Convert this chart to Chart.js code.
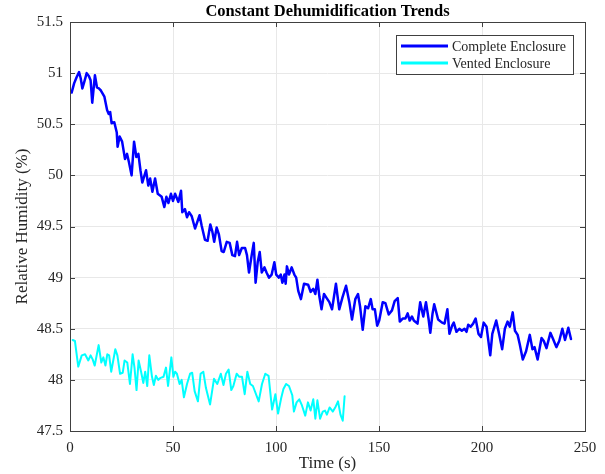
<!DOCTYPE html>
<html>
<head>
<meta charset="utf-8">
<script src="https://cdn.jsdelivr.net/npm/chart.js@4.4.0/dist/chart.umd.min.js"></script>
<style>
  body { margin: 0; background: #fff; }
  canvas { display: block; }
</style>
</head>
<body>
<canvas id="humidityChart" width="605" height="474"></canvas>
<script>
const xTicks = [0, 50, 100, 150, 200, 250];
const yTicks = [47.5, 48, 48.5, 49, 49.5, 50, 50.5, 51, 51.5];

const completeTime = [0.8,2,3.2,4.4,5.2,6,7,8.1,9.2,10,10.8,12.1,13.1,14,15,16.7,18,18.8,19.5,20.2,21.5,22.7,23.1,24.1,25.3,26.7,27.7,28.6,29.9,31.1,32.2,33.2,34.2,35.1,36.9,38,38.9,40,41.3,42.6,44.5,45.8,46.8,47.8,49,50,51,52.6,53.9,54.5,55.8,56.8,57.8,59.1,60.7,62.9,63.9,65.5,66.8,68.1,69.1,70,71.2,72.3,73.6,74.6,76.1,77.5,78.8,80.1,81.1,82.1,83.4,85,85.9,86.9,88.2,89.2,90.1,91.1,92.1,93.1,94.4,95.4,96.6,97.9,99.2,100.1,101.4,102.3,103.1,104.1,104.7,105.3,106.3,107.6,108.9,109.8,110.8,112.1,113.6,115.6,116.8,118.1,119.1,120.1,121.1,122.1,123.3,124.6,125.9,127.2,129.1,130.7,132.3,134,135.6,136.9,138.5,139.8,140.8,142.1,143.4,144.7,146,146.9,148,149.1,150.1,151.8,153.1,154.7,156.3,157.6,159.1,160.1,161.5,162.8,163.9,164.9,166,166.9,168.7,170,171.5,172.8,174.1,174.9,176,176.8,178.7,180.6,181.8,183.2,184.2,185.5,186.3,187.6,189,190.2,191.5,192.5,193.3,194.5,195.7,196.9,198.3,199.5,200.8,202.2,204,205,206.9,208.3,209.8,211.1,212.4,213.5,214.9,216,217.3,218.3,219.8,221.4,223.2,224.5,225.5,227,228.9,230,231.3,233.2,234.5,236.1,237.5,239,240.3,241.9,243.2];
const completeHumidity = [50.81,50.9,50.96,51.01,50.95,50.85,50.92,51.0,50.97,50.93,50.71,50.98,50.86,50.85,50.83,50.77,50.64,50.6,50.62,50.51,50.52,50.42,50.28,50.38,50.33,50.16,50.21,50.13,50.0,50.33,50.18,50.21,50.05,49.93,50.05,49.9,49.97,49.84,49.97,49.82,49.79,49.69,49.79,49.73,49.82,49.75,49.82,49.74,49.85,49.64,49.67,49.59,49.64,49.6,49.48,49.61,49.51,49.37,49.36,49.52,49.45,49.35,49.49,49.42,49.26,49.25,49.35,49.34,49.22,49.21,49.35,49.22,49.29,49.29,49.22,49.05,49.22,49.34,48.95,49.15,49.25,49.05,49.1,49.05,49.0,49.03,49.15,49.03,49.0,49.03,48.95,49.03,48.94,49.11,49.03,49.1,49.03,49.0,48.87,48.79,48.94,48.93,48.86,48.89,48.84,48.98,48.81,48.69,48.84,48.8,48.76,48.69,48.94,48.69,48.81,48.92,48.76,48.59,48.79,48.84,48.72,48.49,48.72,48.7,48.79,48.69,48.69,48.53,48.58,48.76,48.75,48.64,48.68,48.77,48.8,48.57,48.6,48.6,48.65,48.58,48.62,48.58,48.55,48.76,48.62,48.76,48.59,48.46,48.65,48.74,48.59,48.56,48.55,48.69,48.45,48.53,48.56,48.47,48.5,48.48,48.5,48.47,48.54,48.52,48.55,48.6,48.45,48.42,48.56,48.52,48.24,48.45,48.58,48.45,48.3,48.5,48.57,48.52,48.66,48.48,48.44,48.35,48.2,48.28,48.44,48.3,48.32,48.2,48.41,48.38,48.31,48.46,48.4,48.32,48.38,48.5,48.39,48.51,48.4];

const ventedTime = [1.3,2.4,4,5.7,7.3,8.9,10,11,12,13.9,15.2,16.2,17.2,18.1,19,20,22,23,24.3,25.6,26.5,27.8,29.1,30.4,31.3,32.3,33.3,34.5,35.6,36.5,37.5,38.5,39.8,40.7,41.7,42.8,44,45.4,46.6,47.6,49.2,50.2,51,51.9,53.2,54.2,55.3,56.8,58.3,59.3,60.5,62.1,63.4,64.7,66,68,69.9,71.5,73.2,74.5,75.7,77,78.3,79.3,80.9,82.2,83.5,84.8,86.1,87.5,88.8,91.6,93.2,94.8,96.4,98.1,99.7,101,102.5,103.6,104.9,106.3,107.9,108.7,110,111.3,112.6,114.2,115.5,116.8,118.1,119.1,120.1,121.4,122.7,123.8,124.7,126,127.6,129,130.1,131.3,132.4,133.3];
const ventedHumidity = [48.39,48.38,48.13,48.24,48.25,48.19,48.24,48.2,48.14,48.34,48.17,48.22,48.14,48.25,48.24,48.08,48.3,48.24,48.06,48.07,48.19,48.17,47.96,48.25,48.12,47.9,48.19,48.08,47.97,48.08,47.94,48.24,48.03,47.95,48.04,48.0,48.02,48.03,48.12,47.94,48.22,48.03,48.08,48.06,47.96,48.0,47.83,47.96,48.06,48.07,47.89,47.79,48.06,48.08,47.92,47.76,48.01,47.96,48.06,47.95,48.06,48.1,47.9,47.94,48.06,48.03,48.03,47.86,48.08,47.96,47.94,47.79,47.96,48.06,48.04,47.71,47.86,47.67,47.82,47.91,47.96,47.94,47.85,47.69,47.78,47.81,47.75,47.65,47.78,47.7,47.81,47.62,47.8,47.62,47.69,47.7,47.66,47.73,47.69,47.74,47.79,47.66,47.6,47.84];

const seriesNames = ['Complete Enclosure', 'Vented Enclosure'];
const seriesColors = ['#0000ff', '#00ffff'];

const toPoints = (xs, ys) => xs.map((x, i) => ({ x: x, y: ys[i] }));

const axisColor = '#404040';
const textColor = '#262626';
const serif = '"Liberation Serif", "Times New Roman", serif';

// MATLAB style box with inward ticks on all four sides
const boxFrame = {
    id: 'boxFrame',
    afterDatasetsDraw(chart) {
        const { ctx, chartArea: a, scales } = chart;
        ctx.save();
        ctx.strokeStyle = axisColor;
        ctx.lineWidth = 1;
        ctx.beginPath();
        xTicks.forEach(v => {
            const px = Math.round(scales.x.getPixelForValue(v)) + 0.5;
            ctx.moveTo(px, a.bottom); ctx.lineTo(px, a.bottom - 5);
            ctx.moveTo(px, a.top); ctx.lineTo(px, a.top + 5);
        });
        yTicks.forEach(v => {
            const py = Math.round(scales.y.getPixelForValue(v)) + 0.5;
            ctx.moveTo(a.left, py); ctx.lineTo(a.left + 5, py);
            ctx.moveTo(a.right, py); ctx.lineTo(a.right - 5, py);
        });
        ctx.stroke();
        ctx.strokeRect(Math.round(a.left) + 0.5, Math.round(a.top) + 0.5,
            Math.round(a.right - a.left), Math.round(a.bottom - a.top));

        // title
        ctx.fillStyle = '#000';
        ctx.font = 'bold 16.5px ' + serif;
        ctx.textAlign = 'center';
        ctx.textBaseline = 'middle';
        ctx.fillText('Constant Dehumidification Trends', (a.left + a.right) / 2, 12);

        // legend
        const bx = 396, by = 35, bw = 177, bh = 39;
        ctx.fillStyle = '#fff';
        ctx.fillRect(bx, by, bw, bh);
        ctx.strokeStyle = axisColor;
        ctx.strokeRect(bx + 0.5, by + 0.5, bw, bh);
        ctx.font = '14px ' + serif;
        ctx.textAlign = 'left';
        seriesNames.forEach((name, i) => {
            const y = by + 11 + i * 17;
            ctx.strokeStyle = seriesColors[i];
            ctx.lineWidth = 3;
            ctx.beginPath();
            ctx.moveTo(bx + 5, y); ctx.lineTo(bx + 52, y);
            ctx.stroke();
            ctx.fillStyle = textColor;
            ctx.fillText(name, bx + 56, y + 1);
        });
        ctx.restore();
    }
};

const ctx = document.querySelector('#humidityChart').getContext('2d');
const humidityChart = new Chart(ctx, {
    type: 'line',
    data: {
        datasets: [{
            label: seriesNames[0],
            data: toPoints(completeTime, completeHumidity),
            borderColor: seriesColors[0],
            borderWidth: 2.5
        }, {
            label: seriesNames[1],
            data: toPoints(ventedTime, ventedHumidity),
            borderColor: seriesColors[1],
            borderWidth: 2
        }]
    },
    options: {
        responsive: false,
        animation: false,
        layout: { padding: { top: 22, right: 20, left: 0, bottom: 0 } },
        elements: {
            point: { radius: 0 },
            line: { tension: 0, borderJoinStyle: 'round', borderCapStyle: 'round' }
        },
        plugins: { legend: { display: false }, tooltip: { enabled: false } },
        scales: {
            x: {
                type: 'linear',
                min: 0,
                max: 250,
                afterBuildTicks: s => { s.ticks = xTicks.map(v => ({ value: v })); },
                afterFit: s => { s.height = 43; },
                grid: { color: '#e8e8e8', drawTicks: false },
                border: { display: false },
                ticks: { padding: 8, color: textColor, font: { family: serif, size: 15 } },
                title: { display: true, text: 'Time (s)', color: textColor, padding: 0, font: { family: serif, size: 17 } }
            },
            y: {
                min: 47.5,
                max: 51.5,
                afterBuildTicks: s => { s.ticks = yTicks.map(v => ({ value: v })); },
                afterFit: s => { s.width = 70; },
                grid: { color: '#e8e8e8', drawTicks: false },
                border: { display: false },
                ticks: { padding: 7, color: textColor, font: { family: serif, size: 15 }, callback: v => String(v) },
                title: { display: true, text: 'Relative Humidity (%)', color: textColor, padding: { top: 12 }, font: { family: serif, size: 17 } }
            }
        }
    },
    plugins: [boxFrame]
});
</script>
</body>
</html>
